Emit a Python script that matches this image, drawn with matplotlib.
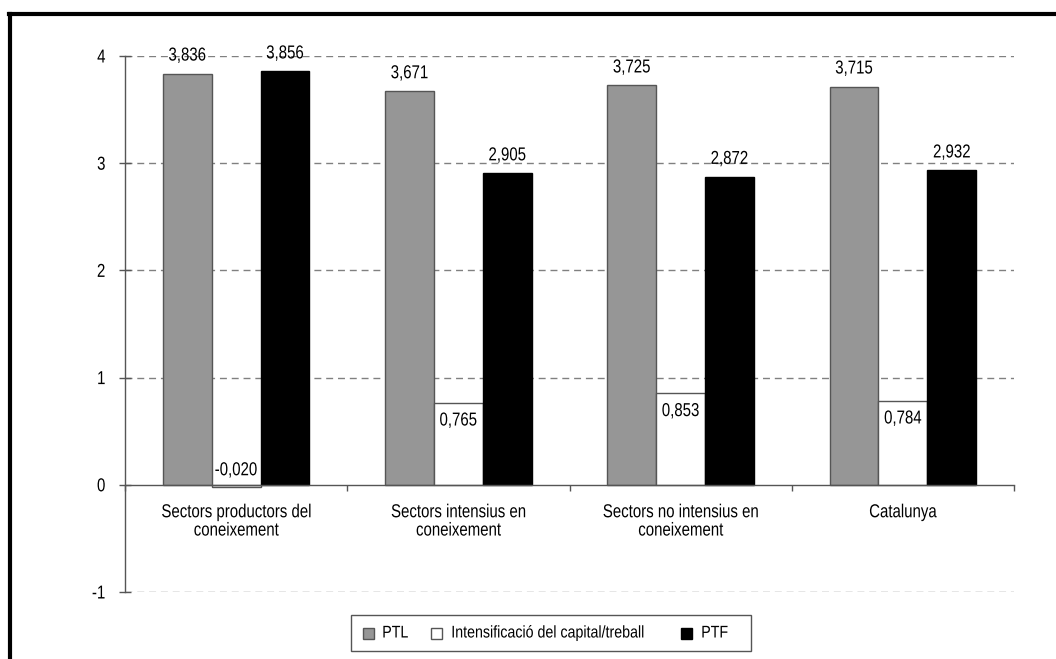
import matplotlib
matplotlib.use("Agg")
import matplotlib.pyplot as plt
from matplotlib.lines import Line2D
from matplotlib.patches import Rectangle
from matplotlib.patheffects import AbstractPathEffect
from matplotlib.transforms import Affine2D
import numpy as np

categories = ["Sectors productors del\nconeixement",
              "Sectors intensius en\nconeixement",
              "Sectors no intensius en\nconeixement",
              "Catalunya"]
series_names = ["PTL", "Intensificació del capital/treball", "PTF"]
ptl = [3.836, 3.671, 3.725, 3.715]
intens = [-0.020, 0.765, 0.853, 0.784]
ptf = [3.856, 2.905, 2.872, 2.932]
yticks = [-1, 0, 1, 2, 3, 4]

plt.rcParams["font.family"] = ["Liberation Sans", "DejaVu Sans"]
FS = 13.5
LEG_FS = 12.2
W, H = 1056, 659


class Condensed(AbstractPathEffect):
    """Squeeze glyphs horizontally to get a narrow typeface look."""

    def __init__(self, factor=0.8, anchor="center"):
        super().__init__()
        self.factor = factor
        self.anchor = anchor

    def draw_path(self, renderer, gc, tpath, affine, rgbFace=None):
        ext = tpath.get_extents()
        if self.anchor == "left":
            cx = ext.x0
        elif self.anchor == "right":
            cx = ext.x1
        else:
            cx = 0.5 * (ext.x0 + ext.x1)
        t = Affine2D().translate(-cx, 0).scale(self.factor, 1.0).translate(cx, 0) + affine
        renderer.draw_path(gc, tpath, t, rgbFace)


SQ = 0.8
pe_c = [Condensed(SQ, "center")]
pe_r = [Condensed(SQ, "right")]
pe_leg = [Condensed(0.84, "left")]


def fmt(v):
    return f"{v:.3f}".replace(".", ",")


fig = plt.figure(figsize=(W / 100, H / 100), dpi=100)
ax = fig.add_axes([125 / W, 1 - 592 / H, (1014 - 125) / W, (592 - 56) / H])

x = np.arange(len(categories))
w = 0.22
colors = ["#969696", "#ffffff", "#000000"]
edges = ["#555555", "#555555", "#000000"]
data = [ptl, intens, ptf]

for i, (vals, c, ec) in enumerate(zip(data, colors, edges)):
    xs = x + (i - 1) * w
    ax.bar(xs, vals, width=w, color=c, edgecolor=ec, linewidth=1.0, zorder=3)
    for xi, v in zip(xs, vals):
        if i == 1:
            if v >= 0:
                ax.annotate(fmt(v), (xi, v), xytext=(0, -7), textcoords="offset points",
                            ha="center", va="top", fontsize=FS, zorder=4, path_effects=pe_c)
            else:
                ax.annotate(fmt(v), (xi, 0), xytext=(0, 4), textcoords="offset points",
                            ha="center", va="bottom", fontsize=FS, zorder=4, path_effects=pe_c)
        else:
            ax.annotate(fmt(v), (xi, v), xytext=(0, 6.5), textcoords="offset points",
                        ha="center", va="bottom", fontsize=FS, zorder=4, path_effects=pe_c)

ax.set_xlim(-0.5, len(categories) - 0.5)
ax.set_ylim(-1, 4)
ax.set_yticks(yticks)
ax.set_yticklabels([str(t) for t in yticks])
for lab in ax.get_yticklabels():
    lab.set_fontsize(FS)
    lab.set_path_effects(pe_r)

for t in yticks:
    if t != 0:
        ax.axhline(t, color="#808080", linestyle=(0, (5, 3.5)), linewidth=1.0, zorder=1)

for s in ["top", "right"]:
    ax.spines[s].set_visible(False)
ax.spines["bottom"].set_position(("data", 0))
for s in ["left", "bottom"]:
    ax.spines[s].set_color("#555555")
    ax.spines[s].set_linewidth(1.0)
    ax.spines[s].set_zorder(5)

ax.tick_params(axis="y", direction="inout", length=8, width=1.0, color="#555555", pad=10)
ax.set_xticks(np.arange(-0.5, len(categories), 1.0))
ax.set_xticklabels([])
ax.tick_params(axis="x", direction="out", length=4, width=1.0, color="#555555")
for xi, lab in zip(x, categories):
    ax.annotate(lab, (xi, 0), xytext=(0, -14), textcoords="offset points",
                ha="center", va="top", linespacing=1.1, fontsize=FS, path_effects=pe_c)

# legend box with square keys, laid out in pixel units
def px(xp, yp):
    return xp / W, 1 - yp / H

fx, fy = px(351, 651)
fig.add_artist(Rectangle((fx, fy), (751 - 351) / W, (651 - 615) / H, transform=fig.transFigure,
                         facecolor="white", edgecolor="#555555", linewidth=1.0))
key_x = [363, 431, 681]
text_x = [382, 451, 701]
key_size = 11
yc = 633
for kx, tx, c, ec, name in zip(key_x, text_x, colors, edges, series_names):
    kx0, ky0 = px(kx, yc + key_size / 2)
    fig.add_artist(Rectangle((kx0, ky0), key_size / W, key_size / H, transform=fig.transFigure,
                             facecolor=c, edgecolor=ec, linewidth=1.0))
    tx0, ty0 = px(tx, yc)
    fig.text(tx0, ty0, name, ha="left", va="center", fontsize=LEG_FS, path_effects=pe_leg)

# outer frame (left and top edges)
x0 = 10 / W
y0 = 1 - 14 / H
fig.add_artist(Line2D([x0, x0], [0, y0], transform=fig.transFigure, color="black", linewidth=3))
fig.add_artist(Line2D([x0 - 0.0014, 1], [y0, y0], transform=fig.transFigure, color="black", linewidth=3))

fig.savefig("out.png", dpi=100)
